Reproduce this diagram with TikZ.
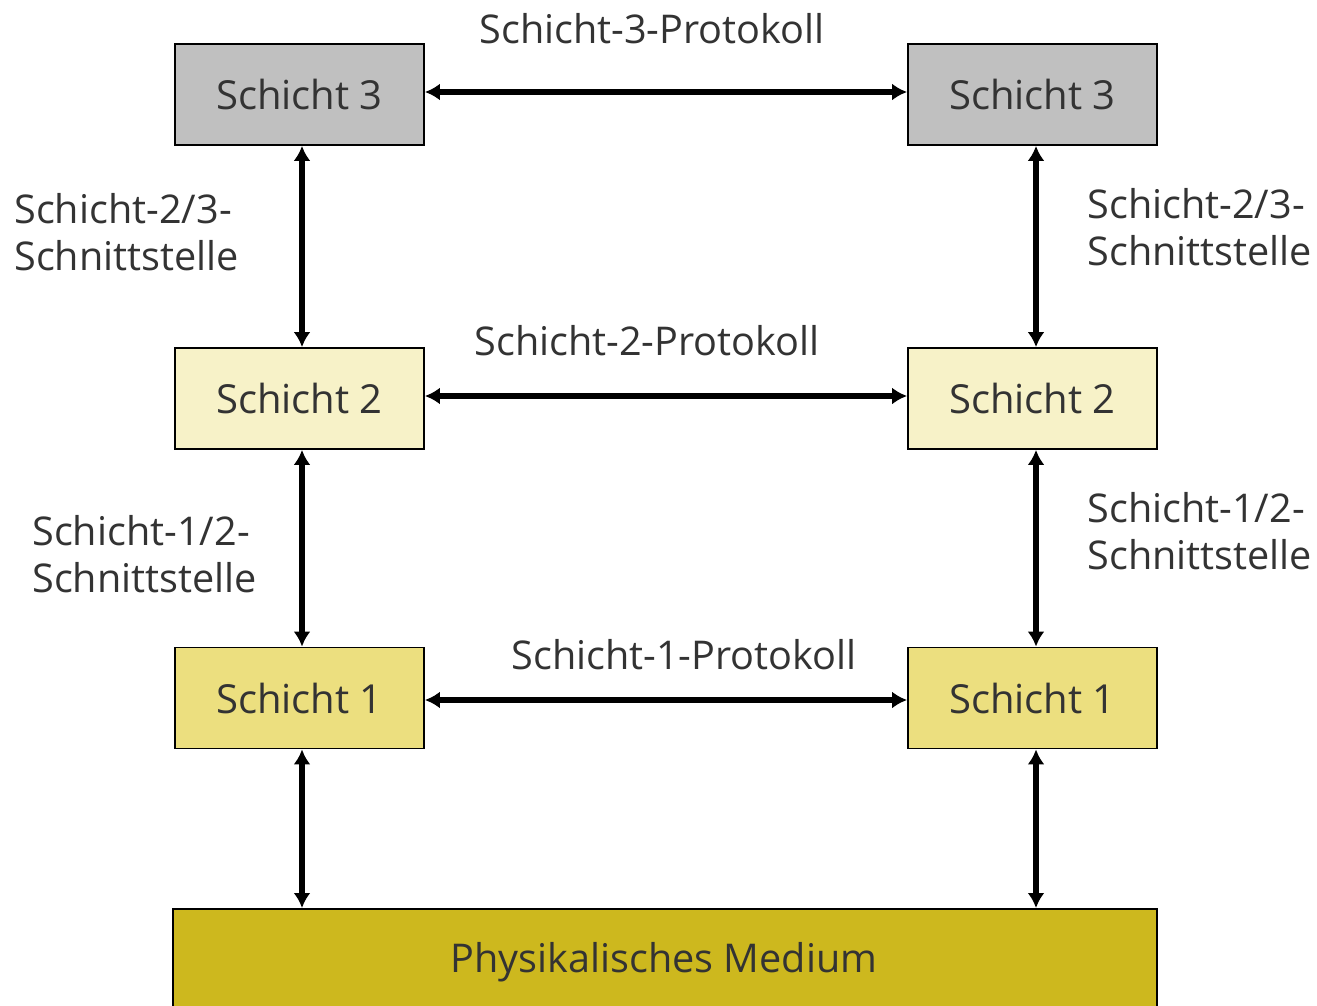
\documentclass[tikz,border=0pt]{standalone}
\usepackage{fontspec}
\setmainfont{Open Sans}
\usetikzlibrary{arrows.meta}
\definecolor{txt}{HTML}{333333}
\definecolor{layerthree}{HTML}{C0C0C0}
\definecolor{layertwo}{HTML}{F7F2C8}
\definecolor{layerone}{HTML}{ECDF7F}
\definecolor{medium}{HTML}{CDB81E}
\tikzset{
  layer/.style={draw=black, line width=0.9pt, minimum width=124.5pt, minimum height=50.5pt,
    inner sep=0pt, font=\fontsize{20}{24}\selectfont, text=txt},
  lbl/.style={font=\fontsize{19.8}{23.5}\selectfont, text=txt, inner sep=0pt},
  biarrow/.style={line width=2.6pt, {Latex[length=7.5pt,width=8.5pt]}-{Latex[length=7.5pt,width=8.5pt]}},
}
\begin{document}
\begin{tikzpicture}[x=0.5pt, y=-0.5pt]
\useasboundingbox (0,0) rectangle (1317,1006);
\clip (0,0) rectangle (1317,1006);
% protocol stacks
\node[layer, fill=layerthree] (l3) at (299.5,94.5) {Schicht 3};
\node[layer, fill=layerthree] (r3) at (1032.5,94.5) {Schicht 3};
\node[layer, fill=layertwo] (l2) at (299.5,398.5) {Schicht 2};
\node[layer, fill=layertwo] (r2) at (1032.5,398.5) {Schicht 2};
\node[layer, fill=layerone] (l1) at (299.5,698) {Schicht 1};
\node[layer, fill=layerone] (r1) at (1032.5,698) {Schicht 1};
% physical medium (runs past the lower edge)
\node[draw=black, line width=0.9pt, fill=medium, minimum width=492pt, minimum height=56pt,
  inner sep=0pt, anchor=north west] (med) at (172,908) {};
\node[lbl] (medtxt) at (664,962) {Physikalisches Medium};
% anchors on the medium top edge
\coordinate (ml) at (302,908);
\coordinate (mr) at (1036,908);
% peer protocols
\draw[biarrow] (l3.east |- 0,92) -- (r3.west |- 0,92);
\draw[biarrow] (l2.east |- 0,396) -- (r2.west |- 0,396);
\draw[biarrow] (l1.east |- 0,700) -- (r1.west |- 0,700);
% interfaces
\draw[biarrow] (l3.south -| 302,0) -- (l2.north -| 302,0);
\draw[biarrow] (l2.south -| 302,0) -- (l1.north -| 302,0);
\draw[biarrow] (l1.south -| 302,0) -- (ml);
\draw[biarrow] (r3.south -| 1036,0) -- (r2.north -| 1036,0);
\draw[biarrow] (r2.south -| 1036,0) -- (r1.north -| 1036,0);
\draw[biarrow] (r1.south -| 1036,0) -- (mr);
% labels
\node[lbl] (p3) at (652,29) {Schicht-3-Protokoll};
\node[lbl] (p2) at (647,341) {Schicht-2-Protokoll};
\node[lbl] (p1) at (684,655) {Schicht-1-Protokoll};
\node[lbl, anchor=west, align=left] (i23l) at (14,232) {Schicht-2/3-\\Schnittstelle};
\node[lbl, anchor=west, align=left] (i12l) at (32,554) {Schicht-1/2-\\Schnittstelle};
\node[lbl, anchor=west, align=left] (i23r) at (1087,227) {Schicht-2/3-\\Schnittstelle};
\node[lbl, anchor=west, align=left] (i12r) at (1087,531) {Schicht-1/2-\\Schnittstelle};
\end{tikzpicture}
\end{document}
